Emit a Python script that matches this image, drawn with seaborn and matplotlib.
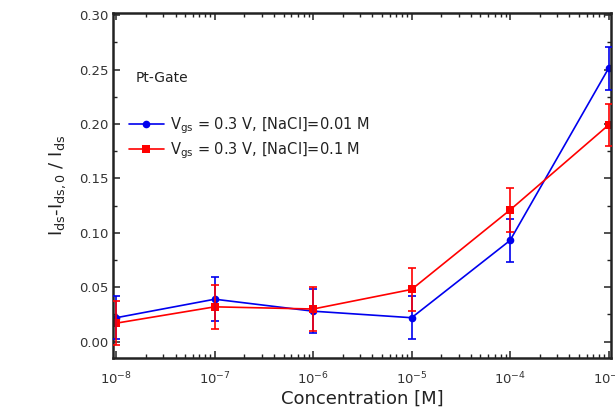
import matplotlib
matplotlib.use("Agg")
import matplotlib.pyplot as plt
import seaborn as sns
import numpy as np
import pandas as pd
from matplotlib.ticker import LogLocator, MultipleLocator, NullFormatter

concentration = [1e-8, 1e-7, 1e-6, 1e-5, 1e-4, 1e-3]
blue_vals = [0.022, 0.039, 0.028, 0.022, 0.093, 0.251]
blue_err = [0.020, 0.020, 0.020, 0.020, 0.020, 0.020]
red_vals = [0.017, 0.032, 0.030, 0.048, 0.121, 0.199]
red_err = [0.020, 0.020, 0.020, 0.020, 0.020, 0.019]
label_blue = r"V$_{gs}$ = 0.3 V, [NaCl]=0.01 M"
label_red = r"V$_{gs}$ = 0.3 V, [NaCl]=0.1 M"

sns.set_style("ticks")
plt.rcParams['font.family'] = ['DejaVu Sans']
plt.rcParams['mathtext.default'] = 'regular'

df = pd.DataFrame({
    "conc": concentration * 2,
    "val": blue_vals + red_vals,
    "err": blue_err + red_err,
    "series": [label_blue] * 6 + [label_red] * 6,
})

fig = plt.figure(figsize=(6.15, 4.17), dpi=100)
ax = fig.add_axes([0.184, 0.1415, 0.8095, 0.8275])

palette = {label_blue: "#0000ee", label_red: "#ff0000"}
markers = {label_blue: "o", label_red: "s"}
sns.lineplot(data=df, x="conc", y="val", hue="series", style="series",
             palette=palette, markers=markers, dashes=False, markersize=5.5,
             markeredgewidth=0, linewidth=1.2, ax=ax, legend=True)
for lab, vals, errs in [(label_blue, blue_vals, blue_err), (label_red, red_vals, red_err)]:
    ax.errorbar(concentration, vals, yerr=errs, fmt="none", ecolor=palette[lab],
                elinewidth=1.2, capsize=3, capthick=1.2, zorder=3)

ax.set_xscale("log")
ax.set_xlim(0.93e-8, 1.06e-3)
ax.set_ylim(-0.015, 0.302)
ax.yaxis.set_major_locator(MultipleLocator(0.05))
ax.yaxis.set_minor_locator(MultipleLocator(0.025))
ax.yaxis.set_major_formatter(matplotlib.ticker.FormatStrFormatter("%.2f"))
ax.xaxis.set_major_locator(LogLocator(base=10, numticks=10))
ax.xaxis.set_minor_locator(LogLocator(base=10, subs=np.arange(2, 10), numticks=20))
ax.xaxis.set_minor_formatter(NullFormatter())
ax.tick_params(which="both", direction="in", top=True, right=True, color="#222222")
ax.tick_params(which="major", length=5, width=1.2, labelsize=9.5, colors="#333333")
ax.tick_params(which="minor", length=3, width=1)
ax.tick_params(axis="x", pad=9)
for s in ax.spines.values():
    s.set_linewidth(1.8)
    s.set_color("#222222")

ax.set_xlabel("Concentration [M]", fontsize=13, color="#222222", labelpad=2)
ax.set_ylabel(r"I$_{ds}$-I$_{ds,0}$ / I$_{ds}$", fontsize=13, color="#222222", labelpad=8)

ax.text(0.045, 0.80, "Pt-Gate", transform=ax.transAxes, fontsize=10, color="#222222")
leg = ax.legend(loc="upper left", bbox_to_anchor=(0.02, 0.72), frameon=False,
                fontsize=10.5, handlelength=2.4, handletextpad=0.4, labelspacing=0.3,
                borderaxespad=0)
for t in leg.get_texts():
    t.set_color("#222222")

fig.savefig("out.png", dpi=100)
